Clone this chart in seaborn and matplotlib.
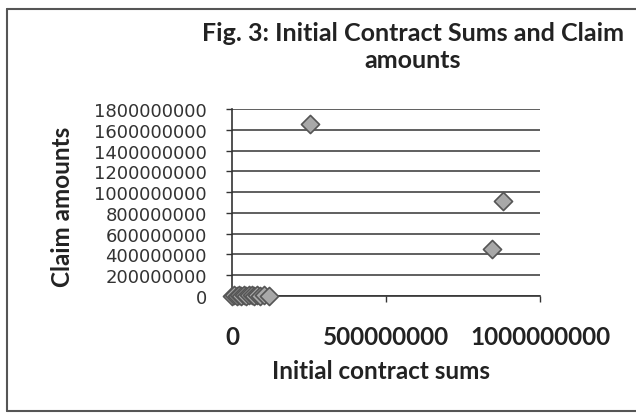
import numpy as np
import pandas as pd
import matplotlib.pyplot as plt
import seaborn as sns

# values
contract_sums = [0, 8e6, 15e6, 22e6, 30e6, 38e6, 46e6, 55e6, 64e6, 72e6, 82e6, 92e6, 105e6, 120e6,
                 2.53e8, 8.79e8, 8.43e8]
claim_amounts = [0, 5e6, 2e6, 8e6, 3e6, 10e6, 1e6, 6e6, 12e6, 4e6, 9e6, 2e6, 7e6, 3e6,
                 1.655e9, 9.1e8, 4.52e8]

y_ticks = [0, 2e8, 4e8, 6e8, 8e8, 1e9, 1.2e9, 1.4e9, 1.6e9, 1.8e9]
x_ticks = [0, 5e8, 1e9]

df = pd.DataFrame({"Initial contract sums": contract_sums, "Claim amounts": claim_amounts})

sns.set_style("white")
plt.rcParams['font.family'] = ['DejaVu Sans']

W, H = 636, 414
fig = plt.figure(figsize=(W / 100, H / 100), dpi=100)
ax = fig.add_axes([232 / W, 1 - 297 / H, (540 - 232) / W, (297 - 110) / H])

sns.scatterplot(data=df, x="Initial contract sums", y="Claim amounts", marker="D", s=85,
                color="#a8a8a8", edgecolor="#555555", linewidth=1.2, ax=ax,
                clip_on=False, zorder=3)

ax.set_xlim(0, 1e9)
ax.set_ylim(0, 1.8e9)
ax.set_yticks(y_ticks)
ax.set_yticklabels([str(int(v)) for v in y_ticks], fontsize=13, color="#333333")
ax.set_xticks(x_ticks)
ax.set_xticklabels([str(int(v)) for v in x_ticks], fontsize=17.5, color="#222222",
                   family="Lato", fontweight="bold")
ax.tick_params(axis="y", length=4, width=1, pad=14, left=True, color="#333333")
ax.tick_params(axis="x", length=4, width=1, pad=17, bottom=True, color="#333333")

ax.grid(axis="y", color="#444444", linewidth=1.2)
ax.grid(axis="x", visible=False)
for side in ["top", "right"]:
    ax.spines[side].set_visible(False)
for side in ["left", "bottom"]:
    ax.spines[side].set_color("#333333")
    ax.spines[side].set_linewidth(1.2)

ax.set_xlabel("")
ax.set_ylabel("")

fig.text(413 / W, 1 - 22 / H, "Fig. 3: Initial Contract Sums and Claim\namounts",
         ha="center", va="top", fontsize=18, fontweight="bold", family="Lato",
         color="#222222", linespacing=1.2)
fig.text(381 / W, 1 - 372 / H, "Initial contract sums", ha="center", va="center",
         fontsize=17.5, fontweight="bold", family="Lato", color="#222222")
fig.text(63 / W, 1 - 207 / H, "Claim amounts", ha="center", va="center", rotation=90,
         fontsize=17.5, fontweight="bold", family="Lato", color="#222222")

# chart area border
for xs, ys in [([7, 7], [10, 412]), ([7, 636], [10, 10]), ([7, 636], [412, 412])]:
    fig.add_artist(plt.Line2D([x / W for x in xs], [1 - y / H for y in ys],
                              color="#555555", linewidth=1.5))

fig.savefig("out.png", dpi=100)
